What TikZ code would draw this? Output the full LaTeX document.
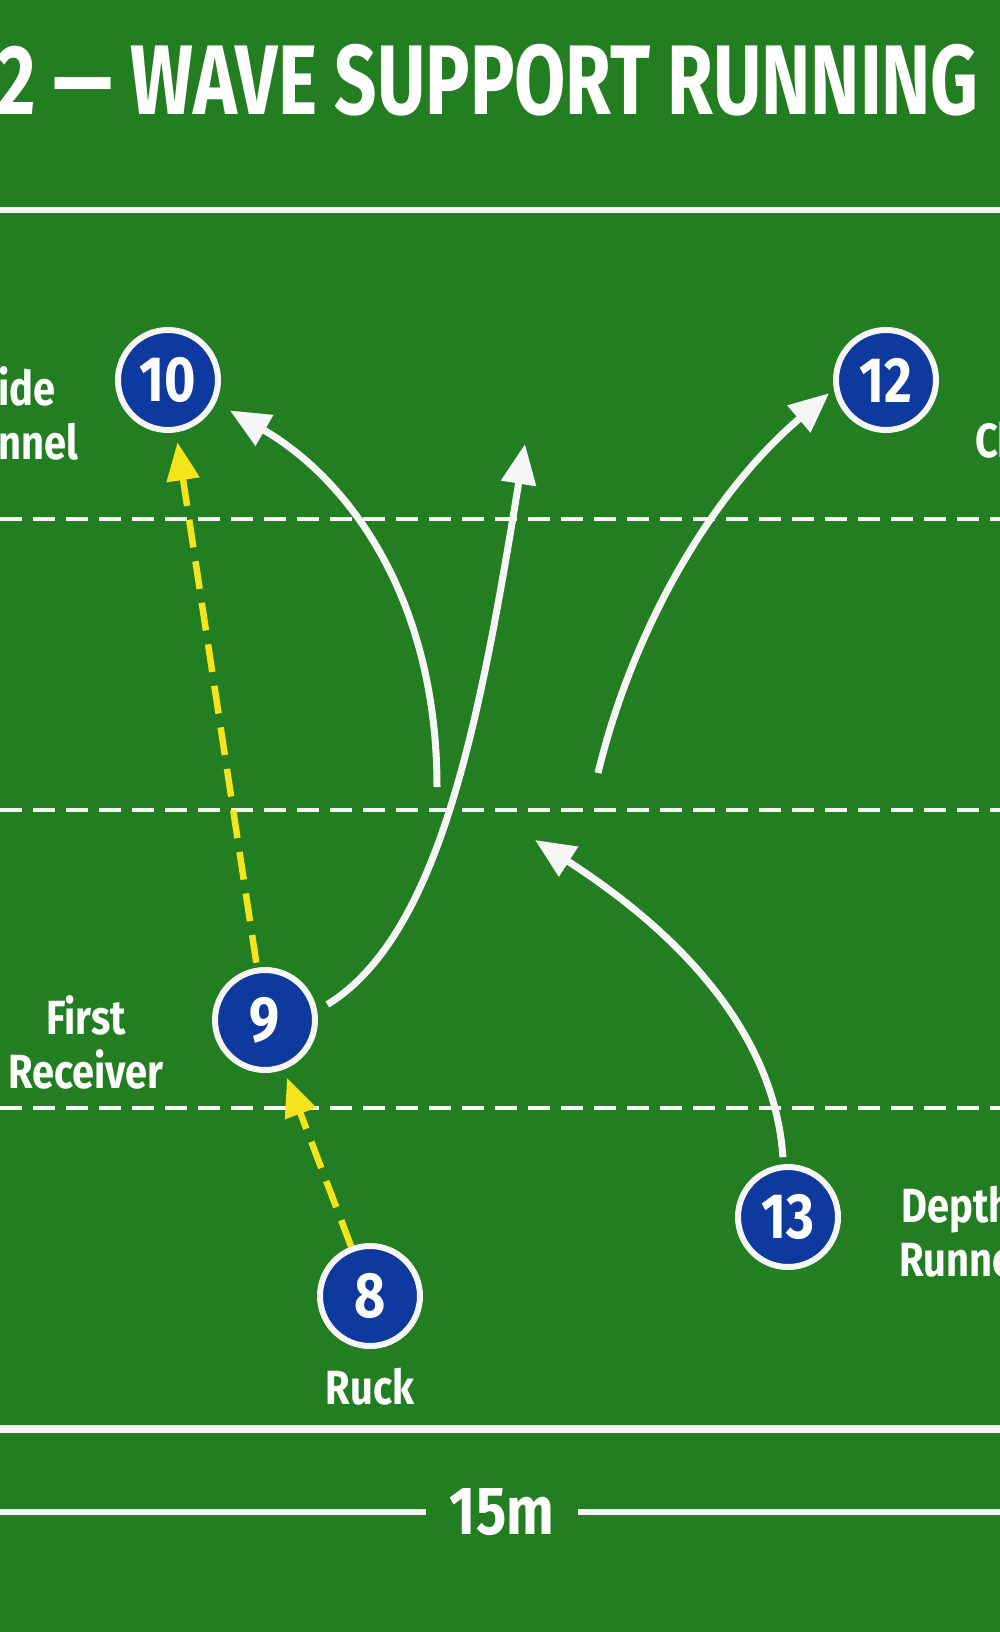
\documentclass[tikz,border=0pt]{standalone}
\usepackage{fontspec}
\usepackage{tikz}
\usetikzlibrary{arrows.meta,positioning,calc}
\usepackage{xcolor}
\definecolor{pitch}{RGB}{34,126,32}
\definecolor{shirt}{RGB}{14,58,160}
\definecolor{chalk}{RGB}{246,246,246}
\definecolor{passyellow}{RGB}{244,228,28}
\newfontfamily\titlefont{Fira Sans}[FakeStretch=0.75]
\newfontfamily\drillfont{Fira Sans}[FakeStretch=0.83]
\newfontfamily\numfont{Fira Sans}[FakeStretch=0.84]

\begin{document}
\begin{tikzpicture}[x=1pt, y=-1pt, >=Latex]
  \tikzstyle{player}=[circle, draw=chalk, line width=6pt, fill=shirt, minimum size=100pt, inner sep=0pt, text=white, font=\numfont\bfseries\fontsize{64}{64}\selectfont]
  \tikzstyle{tag}=[text=white, align=center, inner sep=0pt, font=\drillfont\bfseries\fontsize{48}{54}\selectfont]
  \tikzstyle{chalkline}=[draw=chalk, line width=6pt]
  \tikzstyle{grid}=[draw=chalk, line width=3.5pt, dash pattern=on 22pt off 11pt]
  \tikzstyle{run}=[draw=chalk, line width=7pt, -{Triangle[length=40pt, width=34pt]}]
  \tikzstyle{pass}=[draw=passyellow, line width=6.5pt, dash pattern=on 28pt off 14pt, -{Triangle[length=38pt, width=32pt]}]
  \useasboundingbox (0,0) rectangle (1000,1632);
  \clip (0,0) rectangle (1000,1632);
  \fill[pitch] (0,0) rectangle (1000,1632);

  \node[text=white, anchor=east, inner sep=0pt, font=\titlefont\bfseries\fontsize{99}{99}\selectfont] (title) at (979,80) {2 — WAVE SUPPORT RUNNING};

  \coordinate (topL) at (0,210);
  \coordinate (topR) at (1000,210);
  \coordinate (botL) at (0,1429);
  \coordinate (botR) at (1000,1429);
  \draw[chalkline] (topL) -- (topR);
  \draw[chalkline, line width=8pt] (botL) -- (botR);
  \foreach \y in {519,810,1108}
    \draw[grid] (0,\y) -- (1000,\y);

  \node[player] (p10) at (168,380) {10};
  \node[player] (p12) at (886,380) {12};
  \node[player] (p9) at (265,1020) {9};
  \node[player] (p13) at (788,1217) {13};
  \node[player] (p8) at (370,1296) {8};

  \node[tag, anchor=west, align=left] (lbl10) at (-2,413) {ide\\nnel};
  \node[tag, anchor=west, align=left] (lbl12) at (975,440) {Ch};
  \node[tag] (lbl9) at (86,1042) {First\\Receiver};
  \node[tag, below=19pt of p8] (lbl8) {Ruck};
  \node[tag, anchor=west] (lbl13) at (899,1232) {Depth\\Runne};

  \node[text=white, inner xsep=24pt, inner ysep=0pt, font=\drillfont\bfseries\fontsize{68}{68}\selectfont] (width) at (502,1512) {15m};
  \coordinate (dimL) at (0,1512);
  \coordinate (dimR) at (1000,1512);
  \draw[chalkline] (dimL) -- (width);
  \draw[chalkline] (width) -- (dimR);

  \coordinate (a1) at (437,787);
  \coordinate (b2) at (525,444);
  \coordinate (c1) at (598,773);
  \coordinate (d2) at (535,840);
  \draw[run, shorten >=16pt] (a1) .. controls (437,600) and (350,480) .. (p10.-25);
  \draw[run, shorten <=12pt] (p9.10) .. controls (440,935) and (480,720) .. (b2);
  \draw[run, shorten >=6pt] (c1) .. controls (630,640) and (704,500) .. (p12.190);
  \draw[run, shorten <=7pt] (p13.95) .. controls (775,1040) and (690,940) .. (d2);

  \draw[pass, shorten <=5pt, shorten >=10pt] (p9) -- (p10);
  \draw[pass, shorten >=9pt] (p8) -- (p9);
\end{tikzpicture}
\end{document}
